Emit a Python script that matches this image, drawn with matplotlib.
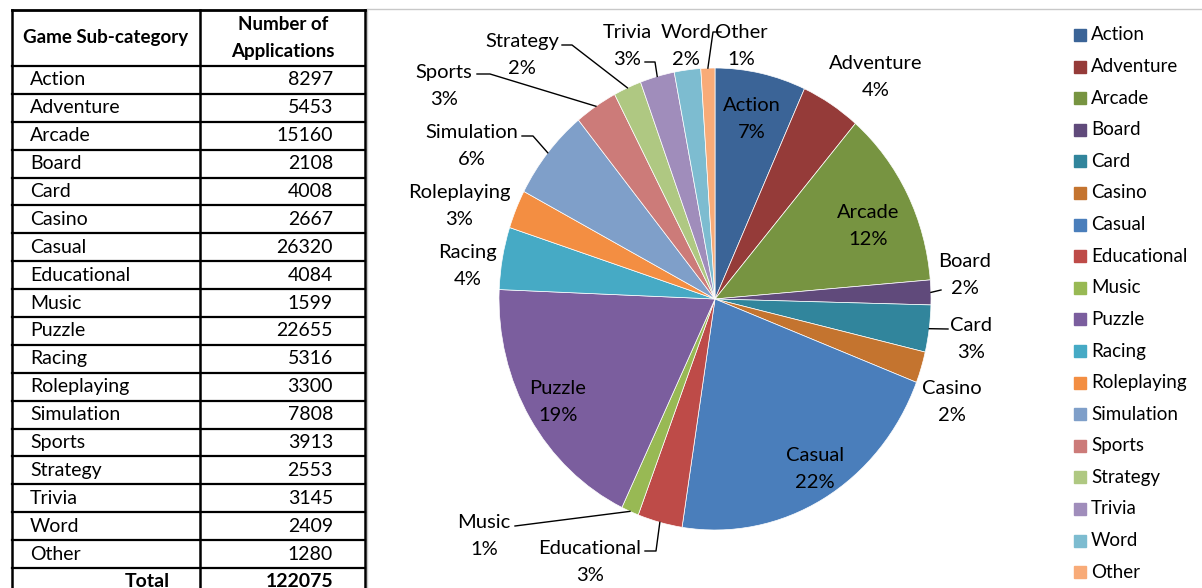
import matplotlib
matplotlib.use('Agg')
import matplotlib.pyplot as plt
from matplotlib.patches import Rectangle
import numpy as np

plt.rcParams['font.family'] = ['Lato', 'DejaVu Sans']

# data
categories = ['Action', 'Adventure', 'Arcade', 'Board', 'Card', 'Casino', 'Casual',
              'Educational', 'Music', 'Puzzle', 'Racing', 'Roleplaying', 'Simulation',
              'Sports', 'Strategy', 'Trivia', 'Word', 'Other']
apps = [8297, 5453, 15160, 2108, 4008, 2667, 26320, 4084, 1599, 22655, 5316,
        3300, 7808, 3913, 2553, 3145, 2409, 1280]
total = 122075

colors = ['#3b6497', '#953b39', '#779441', '#604a7b', '#31859c', '#c4742f',
          '#4a7ebb', '#be4b48', '#98b954', '#7b5e9e', '#46aac5', '#f38e42',
          '#7f9fc9', '#cc7b79', '#afc882', '#a08dbb', '#7dbcd0', '#f8ab78']

# label layout (pixel centres), leader start / elbow points
label_pos = {
    'Action': (752, 119), 'Adventure': (876, 77), 'Arcade': (868, 226),
    'Board': (965, 275), 'Card': (971, 339), 'Casino': (952, 402),
    'Casual': (815, 469), 'Educational': (590, 562), 'Music': (484, 536),
    'Puzzle': (558, 402), 'Racing': (468, 266), 'Roleplaying': (459, 206),
    'Simulation': (472, 146), 'Sports': (444, 86), 'Strategy': (522, 55),
    'Trivia': (627, 46), 'Word': (686, 46), 'Other': (741, 46),
}
leaders = {
    'Board': [(941, 290)],
    'Card': [(948, 329)],
    'Educational': [(645, 551), (656, 551)],
    'Music': [(515, 526)],
    'Simulation': [(522, 136), (533, 136)],
    'Sports': [(477, 74), (490, 74)],
    'Strategy': [(562, 45), (572, 45)],
    'Trivia': [(645, 62), (655, 62)],
    'Other': [(721, 32), (713, 32)],
}

W, H = 1202, 588
cx, cy, rx, ry = 715, 299, 216, 231

fig = plt.figure(figsize=(W / 100, H / 100), dpi=100)

# pie
axp = fig.add_axes([(cx - rx) / W, (H - cy - ry) / H, 2 * rx / W, 2 * ry / H])
wedges, _ = axp.pie(apps, colors=colors, startangle=90, counterclock=False,
                    wedgeprops=dict(edgecolor='white', linewidth=0.5))
axp.set_aspect('auto')
axp.set_xlim(-1, 1)
axp.set_ylim(-1, 1)
axp.axis('off')

# overlay in pixel coords
ax = fig.add_axes([0, 0, 1, 1], zorder=5)
ax.set_xlim(0, W)
ax.set_ylim(H, 0)
ax.axis('off')

for name, v, w in zip(categories, apps, wedges):
    pct = round(v / total * 100)
    x, y = label_pos[name]
    ax.text(x, y, f'{name}\n{pct}%', ha='center', va='center', fontsize=14.5,
            linespacing=1.65, color='black')
    if name in leaders:
        mid = np.radians((w.theta1 + w.theta2) / 2)
        ex, ey = cx + rx * np.cos(mid), cy - ry * np.sin(mid)
        pts = leaders[name] + [(ex, ey)]
        ax.plot([p[0] for p in pts], [p[1] for p in pts], color='black', lw=1)

# chart area border
ax.plot([367, W], [9, 9], color='#c8c8c8', lw=1)
ax.plot([367, 367], [9, H], color='#c8c8c8', lw=1)

# legend
for i, (name, c) in enumerate(zip(categories, colors)):
    y = 35 + i * 31.6
    ax.add_patch(Rectangle((1074, y - 6), 12, 12, color=c))
    ax.text(1091, y, name, ha='left', va='center', fontsize=13.5)

# table
x0, xm, x1 = 12, 200, 365
y0, yh = 10, 66
rh = (568 - 66) / 18
nrows = len(categories) + 1
for i in range(nrows + 1):
    ax.plot([x0, x1], [yh + i * rh, yh + i * rh], color='black', lw=1.6)
ax.plot([x0, x1], [y0, y0], color='black', lw=2)
for xx in (x0, xm, x1):
    ax.plot([xx, xx], [y0, H], color='black', lw=1.8)
ax.text(106, 38, 'Game Sub-category', ha='center', va='center', fontsize=13.5,
        fontweight='bold')
ax.text(283, 38, 'Number of\nApplications', ha='center', va='center', fontsize=13.5,
        fontweight='bold', linespacing=1.75)
for i, (name, v) in enumerate(zip(categories, apps)):
    y = yh + (i + 0.5) * rh
    ax.text(30, y, name, ha='left', va='center', fontsize=14)
    ax.text(333, y, str(v), ha='right', va='center', fontsize=14)
yt = yh + (len(categories) + 0.5) * rh
ax.text(147, yt, 'Total', ha='center', va='center', fontsize=14, fontweight='bold')
ax.text(333, yt, str(total), ha='right', va='center', fontsize=14, fontweight='bold')

fig.savefig('out.png', dpi=100)
